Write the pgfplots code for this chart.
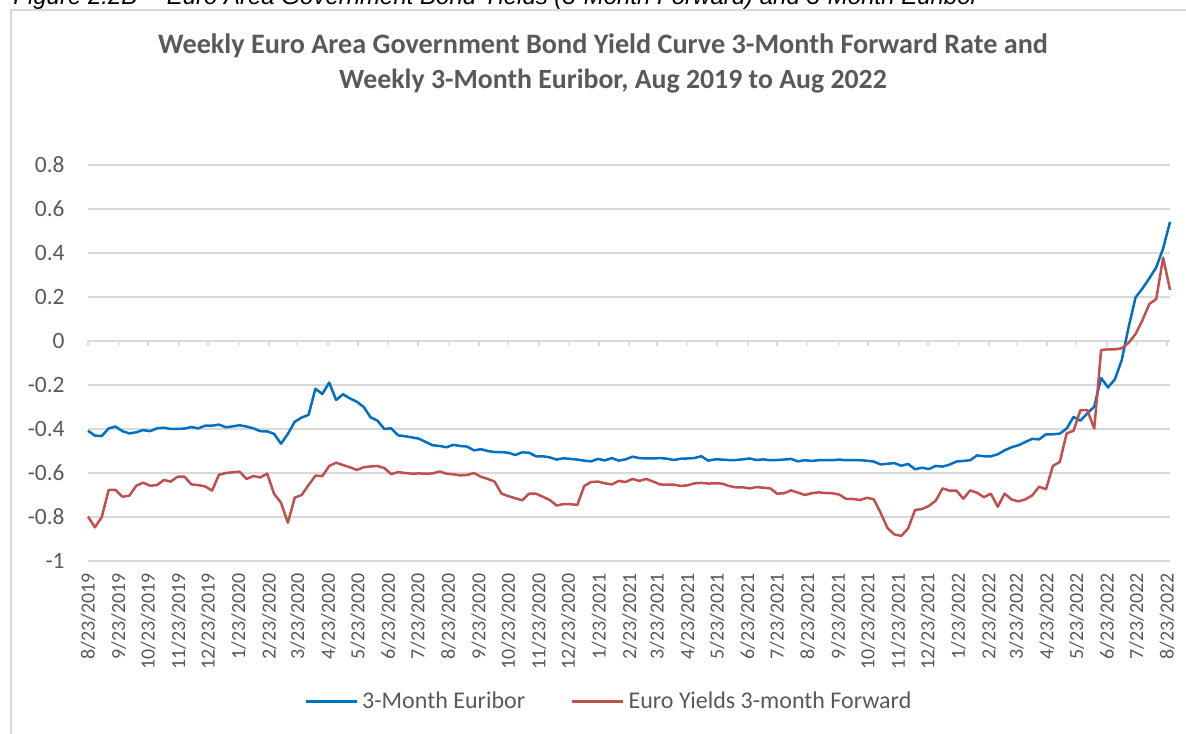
\documentclass[border=0pt]{standalone}
\usepackage{fontspec}
\setmainfont{Carlito}
\newfontfamily\arialfont{Liberation Sans}
\usepackage{pgfplots}
\usepackage{pgfplotstable}
\pgfplotsset{compat=1.18}
\definecolor{eurblue}{HTML}{0070C0}
\definecolor{fwdred}{HTML}{C0504D}
\definecolor{gridgray}{HTML}{D9D9D9}
\definecolor{txtgray}{HTML}{595959}

\pgfplotstableread{
d eur fwd
0 -0.408 -0.798
7 -0.430 -0.847
14 -0.432 -0.800
21 -0.397 -0.677
28 -0.389 -0.677
35 -0.410 -0.708
42 -0.420 -0.703
49 -0.415 -0.658
56 -0.405 -0.644
63 -0.410 -0.658
70 -0.397 -0.655
77 -0.394 -0.632
84 -0.400 -0.639
91 -0.400 -0.617
98 -0.398 -0.617
105 -0.391 -0.652
112 -0.397 -0.655
119 -0.385 -0.661
126 -0.385 -0.680
133 -0.380 -0.608
140 -0.392 -0.600
147 -0.388 -0.597
154 -0.383 -0.594
161 -0.389 -0.627
168 -0.397 -0.614
175 -0.410 -0.620
182 -0.411 -0.603
189 -0.422 -0.695
196 -0.467 -0.735
203 -0.422 -0.826
210 -0.367 -0.712
217 -0.348 -0.700
224 -0.336 -0.655
231 -0.217 -0.612
238 -0.241 -0.614
245 -0.189 -0.568
252 -0.268 -0.553
259 -0.242 -0.564
266 -0.261 -0.574
273 -0.276 -0.586
280 -0.300 -0.574
287 -0.347 -0.570
294 -0.362 -0.568
301 -0.400 -0.578
308 -0.397 -0.605
315 -0.429 -0.596
322 -0.433 -0.600
329 -0.438 -0.603
336 -0.444 -0.602
343 -0.459 -0.603
350 -0.474 -0.602
357 -0.477 -0.593
364 -0.483 -0.603
371 -0.472 -0.606
378 -0.477 -0.611
385 -0.480 -0.609
392 -0.497 -0.600
399 -0.492 -0.617
406 -0.500 -0.627
413 -0.505 -0.639
420 -0.505 -0.694
427 -0.508 -0.705
434 -0.518 -0.715
441 -0.506 -0.724
448 -0.508 -0.694
455 -0.524 -0.694
462 -0.524 -0.708
469 -0.529 -0.723
476 -0.539 -0.748
483 -0.533 -0.741
490 -0.536 -0.742
497 -0.539 -0.745
504 -0.544 -0.659
511 -0.547 -0.641
518 -0.536 -0.639
525 -0.543 -0.647
532 -0.532 -0.652
539 -0.544 -0.636
546 -0.538 -0.641
553 -0.526 -0.627
560 -0.532 -0.636
567 -0.534 -0.627
574 -0.534 -0.639
581 -0.532 -0.652
588 -0.535 -0.653
595 -0.541 -0.653
602 -0.535 -0.659
609 -0.534 -0.656
616 -0.532 -0.647
623 -0.524 -0.645
630 -0.544 -0.648
637 -0.538 -0.647
644 -0.539 -0.648
651 -0.541 -0.659
658 -0.541 -0.665
665 -0.538 -0.665
672 -0.534 -0.670
679 -0.541 -0.664
686 -0.538 -0.667
693 -0.542 -0.670
700 -0.541 -0.694
707 -0.539 -0.692
714 -0.536 -0.679
721 -0.547 -0.689
728 -0.542 -0.700
735 -0.545 -0.692
742 -0.542 -0.688
749 -0.541 -0.691
756 -0.542 -0.692
763 -0.539 -0.698
770 -0.542 -0.718
777 -0.542 -0.718
784 -0.542 -0.723
791 -0.544 -0.713
798 -0.548 -0.719
805 -0.561 -0.780
812 -0.558 -0.850
819 -0.555 -0.879
826 -0.567 -0.886
833 -0.559 -0.852
840 -0.583 -0.768
847 -0.576 -0.764
854 -0.582 -0.750
861 -0.568 -0.726
868 -0.571 -0.670
875 -0.562 -0.680
882 -0.548 -0.680
889 -0.545 -0.717
896 -0.542 -0.679
903 -0.520 -0.690
910 -0.524 -0.710
917 -0.524 -0.694
924 -0.515 -0.753
931 -0.497 -0.694
938 -0.483 -0.720
945 -0.474 -0.729
952 -0.459 -0.720
959 -0.445 -0.702
966 -0.447 -0.662
973 -0.424 -0.674
980 -0.424 -0.568
987 -0.421 -0.550
994 -0.398 -0.420
1001 -0.345 -0.408
1008 -0.362 -0.314
1015 -0.329 -0.314
1022 -0.298 -0.398
1029 -0.168 -0.041
1036 -0.211 -0.038
1043 -0.174 -0.038
1050 -0.086 -0.033
1057 0.065 -0.008
1064 0.198 0.032
1071 0.239 0.095
1078 0.285 0.168
1085 0.335 0.191
1092 0.421 0.379
1099 0.542 0.232
}\datatable

\begin{document}
\begin{tikzpicture}[x=0.5bp,y=0.5bp]
\useasboundingbox (0,0) rectangle (1186,733);
% chart frame
\draw[gridgray, line width=0.75bp] (11,-20) rectangle (1210,723);
% caption (cut at top)
\node[anchor=base west, inner sep=0pt, text=black] at (13,728.5)
  {\arialfont\itshape\fontsize{12bp}{14bp}\selectfont Figure 2.2B -- Euro Area Government Bond Yields (3-Month Forward) and 3-Month Euribor};
% title
\node[anchor=base, inner sep=0pt, text=txtgray] at (603,679.5)
  {\bfseries\fontsize{14.1bp}{16bp}\selectfont Weekly Euro Area Government Bond Yield Curve 3-Month Forward Rate and};
\node[anchor=base, inner sep=0pt, text=txtgray] at (613,644)
  {\bfseries\fontsize{13.9bp}{16bp}\selectfont Weekly 3-Month Euribor, Aug 2019 to Aug 2022};
\begin{axis}[
  at={(44bp,86bp)}, anchor=south west,
  scale only axis, width=541bp, height=198bp,
  xmin=0, xmax=1099, ymin=-1, ymax=0.8,
  axis line style={draw=none},
  major tick length=0pt,
  ytick={-1,-0.8,-0.6,-0.4,-0.2,0,0.2,0.4,0.6,0.8},
  yticklabels={-1,-0.8,-0.6,-0.4,-0.2,0,0.2,0.4,0.6,0.8},
  ymajorgrids,
  major grid style={gridgray, line width=0.75bp},
  xtick={0,31,61,92,122,153,184,213,244,274,305,335,366,397,427,458,488,519,550,578,609,639,670,700,731,762,792,823,853,884,915,943,974,1004,1035,1065,1096},
  xticklabels={8/23/2019,9/23/2019,10/23/2019,11/23/2019,12/23/2019,1/23/2020,2/23/2020,3/23/2020,4/23/2020,5/23/2020,6/23/2020,7/23/2020,8/23/2020,9/23/2020,10/23/2020,11/23/2020,12/23/2020,1/23/2021,2/23/2021,3/23/2021,4/23/2021,5/23/2021,6/23/2021,7/23/2021,8/23/2021,9/23/2021,10/23/2021,11/23/2021,12/23/2021,1/23/2022,2/23/2022,3/23/2022,4/23/2022,5/23/2022,6/23/2022,7/23/2022,8/23/2022},
  x tick label style={rotate=90, anchor=east, inner sep=0pt, text=txtgray, font=\fontsize{10bp}{12bp}\selectfont},
  xticklabel shift=6bp,
  y tick label style={anchor=east, inner sep=0pt, text=txtgray, font=\fontsize{11.7bp}{13bp}\selectfont},
  yticklabel shift=11.5bp,
  legend style={at={(0.4825,-0.355)}, anchor=center, draw=none, fill=none,
    font=\fontsize{12bp}{14bp}\selectfont, text=txtgray,
    /tikz/every even column/.append style={column sep=21bp}},
  legend columns=2,
  legend image code/.code={\draw[#1] (0bp,0bp) -- (25.5bp,0bp);},
  clip=false,
]
\pgfplotsinvokeforeach{0,31,61,92,122,153,184,213,244,274,305,335,366,397,427,458,488,519,550,578,609,639,670,700,731,762,792,823,853,884,915,943,974,1004,1035,1065,1096}{
  \draw[gridgray, line width=0.75bp] (axis cs:#1,0) -- ++(0bp,-2.5bp);
}
\addplot[eurblue, line width=1.25bp, line join=round] table[x=d, y=eur] {\datatable};
\addlegendentry{3-Month Euribor}
\addplot[fwdred, line width=1.25bp, line join=round] table[x=d, y=fwd] {\datatable};
\addlegendentry{Euro Yields 3-month Forward}
\end{axis}
\end{tikzpicture}
\end{document}
